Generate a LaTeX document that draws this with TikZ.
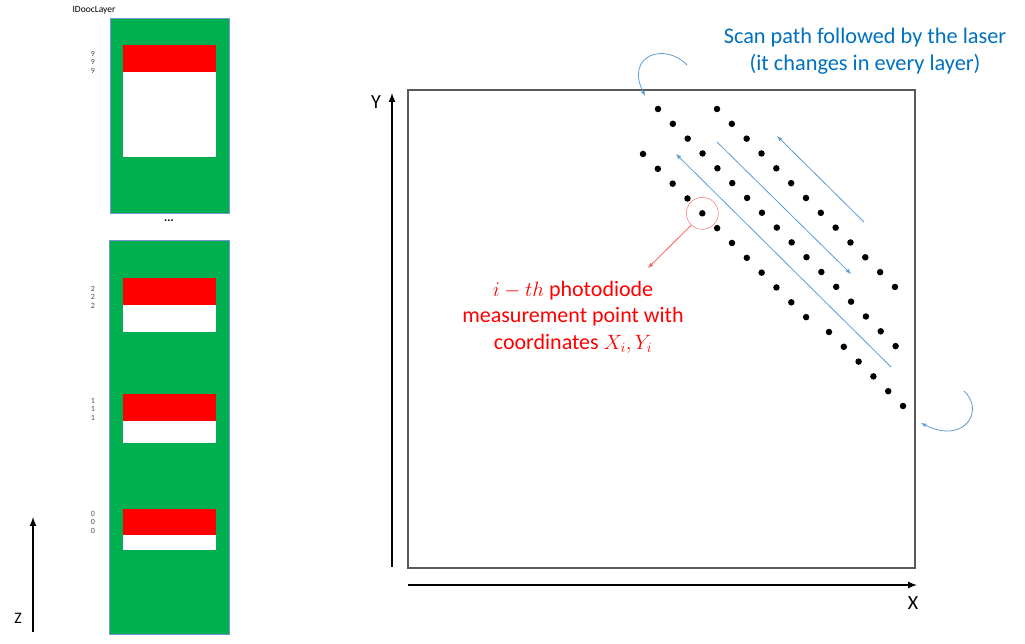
\documentclass[tikz,border=0pt]{standalone}
\usepackage{fontspec}
\setmainfont{Carlito}
\usetikzlibrary{arrows,calc,positioning}
\definecolor{layergreen}{RGB}{0,176,80}
\definecolor{layeredge}{RGB}{120,150,210}
\definecolor{meltred}{RGB}{255,0,0}
\definecolor{scanblue}{RGB}{91,155,213}
\definecolor{textblue}{RGB}{0,112,192}
\definecolor{ringred}{RGB}{255,90,90}
\definecolor{boxgray}{RGB}{89,89,89}
\tikzset{layer/.style={
            draw=layeredge,
            fill=layergreen,
            line width=0.8pt
        },
        melt/.style={
            fill=meltred
        },
        powder/.style={
            fill=white
        },
        dot/.style={
            circle,
            fill=black,
            inner sep=0pt,
            minimum size=6.5pt
        },
        axis/.style={
            line width=2pt,
            >=latex
        },
        scan/.style={
            draw=scanblue,
            line width=0.8pt,
            >=latex
        },
        ring/.style={
            draw=ringred,
            circle,
            inner sep=0pt,
            minimum size=32pt
        },
        tick/.style={
            font=\fontsize{8}{8.5}\selectfont,
            align=center,
            text=black!70
        }
    }
\begin{document}
\begin{tikzpicture}[x=1pt,y=-1pt]
        \useasboundingbox (0,0) rectangle (1025,644);

        % layer stack
        \node[font=\fontsize{9.5}{10}\selectfont] (title) at (94,10) {IDoocLayer};
        \draw[layer] (110,18) rectangle (229,213);
        \fill[melt] (123,45) rectangle (216,72);
        \fill[powder] (123,72) rectangle (216,157);
        \node[tick] (n9) at (93,62) {9\\9\\9};
        \node[font=\bfseries\fontsize{12}{12}\selectfont] (more) at (169,221) {...};

        \draw[layer] (109,240) rectangle (229,634);
        \fill[melt] (123,278) rectangle (216,305);
        \fill[powder] (123,305) rectangle (216,332);
        \fill[melt] (123,394) rectangle (216,421);
        \fill[powder] (123,421) rectangle (216,443);
        \fill[melt] (123,509) rectangle (216,535);
        \fill[powder] (123,535) rectangle (216,550);
        \node[tick] (n2) at (93,297) {2\\2\\2};
        \node[tick] (n1) at (93,409) {1\\1\\1};
        \node[tick] (n0) at (93,522) {0\\0\\0};

        \coordinate (z0) at (33,632);
        \coordinate (z1) at (33,517);
        \draw[axis,->] (z0) -- (z1);
        \node[font=\fontsize{16}{16}\selectfont] (zlab) at (18,618) {Z};

        % scan area
        \draw[boxgray,line width=1.2pt] (408,90) rectangle (915,568);
        \coordinate (y0) at (392,567);
        \coordinate (y1) at (392,93);
        \coordinate (x0) at (408,585);
        \coordinate (x1) at (917,585);
        \draw[axis,->] (y0) -- (y1);
        \draw[axis,->] (x0) -- (x1);
        \node[font=\fontsize{20}{20}\selectfont] (ylab) at (376,102) {Y};
        \node[font=\fontsize{20}{20}\selectfont] (xlab) at (913,603) {X};

        % measurement points
        \foreach \i in {0,...,16}
            \node[dot] (a\i) at ({658+14.85*\i},{109+14.82*\i}) {};
        \foreach \i in {0,...,12}
            \node[dot] (b\i) at ({717+14.83*\i},{109+14.83*\i}) {};
        \foreach \i in {0,...,11}
            \node[dot] (c\i) at ({643+14.83*\i},{154+14.83*\i}) {};
        \foreach \i in {0,...,5}
            \node[dot] (d\i) at ({829+14.8*\i},{332+14.8*\i}) {};

        % scan direction
        \coordinate (s1) at (717,142);
        \coordinate (e1) at (851,274);
        \coordinate (s2) at (864,222);
        \coordinate (e2) at (777,136);
        \coordinate (s3) at (891,367);
        \coordinate (e3) at (676,154);
        \draw[scan,->] (s1) -- (e1);
        \draw[scan,->] (s2) -- (e2);
        \draw[scan,->] (s3) -- (e3);

        \coordinate (t0) at (687,65);
        \coordinate (t1) at (645,96);
        \draw[scan,->] (t0) .. controls (665,42) and (625,55) .. (t1);
        \coordinate (r0) at (964,391);
        \coordinate (r1) at (921,423);
        \draw[scan,->] (r0) .. controls (985,410) and (965,445) .. (r1);

        \node[text=textblue,align=center,font=\fontsize{22.3}{27}\selectfont] (scantext) at (865,51)
            {Scan path followed by the laser\\(it changes in every layer)};

        % i-th point
        \node[ring] (probe) at (c4) {};
        \coordinate (tip) at (648,268);
        \draw[ringred,line width=0.8pt,>=latex,->] (probe.227) -- (tip);
        \node[text=meltred,align=center,font=\fontsize{22}{26.5}\selectfont] (pointtext) at (573,317)
            {$i-th$ photodiode\\measurement point with\\coordinates $X_i,Y_i$};

    \end{tikzpicture}
\end{document}
